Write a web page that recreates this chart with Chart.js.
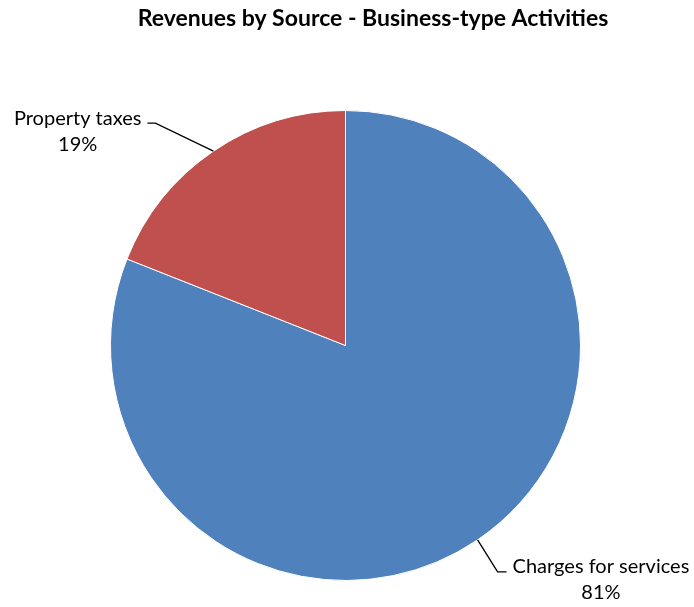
<!DOCTYPE html>
<html>
<head>
<meta charset="utf-8">
<script src="https://cdn.jsdelivr.net/npm/chart.js@4"></script>
<style>
  html, body { margin: 0; padding: 0; background: #fff; }
  #wrap { width: 694px; height: 607px; position: relative; }
</style>
</head>
<body>
<div id="wrap"><canvas id="pie"></canvas></div>
<script>
const chartTitle = 'Revenues by Source - Business-type Activities';
const sources = ['Charges for services', 'Property taxes'];
const shares = [81, 19];
const sliceColors = ['#4F81BD', '#C0504D'];

// leader line elbows and text side, per slice
const leaderOffsets = [
    { dx: 20, dy: 32, run: 9, side: 'right' },
    { dx: -58, dy: -28, run: -8, side: 'left' }
];

const FONT = 'Lato, Calibri, "Open Sans", sans-serif';

const calloutPlugin = {
    id: 'callouts',
    afterDraw(chart) {
        const ctx = chart.ctx;
        ctx.save();

        // title
        ctx.fillStyle = '#000';
        ctx.font = `bold 23px ${FONT}`;
        ctx.textAlign = 'center';
        ctx.textBaseline = 'middle';
        ctx.fillText(chartTitle, 373, 19);

        const meta = chart.getDatasetMeta(0);
        ctx.font = `20px ${FONT}`;
        ctx.strokeStyle = '#000';
        ctx.lineWidth = 1.3;
        meta.data.forEach((arc, i) => {
            const p = arc.getProps(['x', 'y', 'startAngle', 'endAngle', 'outerRadius'], true);
            const mid = (p.startAngle + p.endAngle) / 2;
            const ax = p.x + Math.cos(mid) * p.outerRadius;
            const ay = p.y + Math.sin(mid) * p.outerRadius;
            const off = leaderOffsets[i];
            const ex = ax + off.dx, ey = ay + off.dy;
            const tx = ex + off.run;

            ctx.beginPath();
            ctx.moveTo(ax, ay);
            ctx.lineTo(ex, ey);
            ctx.lineTo(tx, ey);
            ctx.stroke();

            const lines = [sources[i], shares[i] + '%'];
            const w = Math.max(...lines.map(l => ctx.measureText(l).width));
            const cx = off.side === 'right' ? tx + 6 + w / 2 : tx - 6 - w / 2;
            ctx.fillStyle = '#000';
            ctx.fillText(lines[0], cx, ey - 5);
            ctx.fillText(lines[1], cx, ey + 21);
        });
        ctx.restore();
    }
};

new Chart(document.getElementById('pie'), {
    type: 'pie',
    data: {
        labels: sources,
        datasets: [{
            data: shares,
            backgroundColor: sliceColors,
            borderColor: '#ffffff',
            borderWidth: 1,
            hoverOffset: 0
        }]
    },
    options: {
        responsive: true,
        maintainAspectRatio: false,
        animation: false,
        layout: { padding: { left: 110, right: 113, top: 110, bottom: 26 } },
        plugins: {
            legend: { display: false },
            tooltip: { enabled: false },
            title: { display: false }
        }
    },
    plugins: [calloutPlugin]
});
</script>
</body>
</html>
